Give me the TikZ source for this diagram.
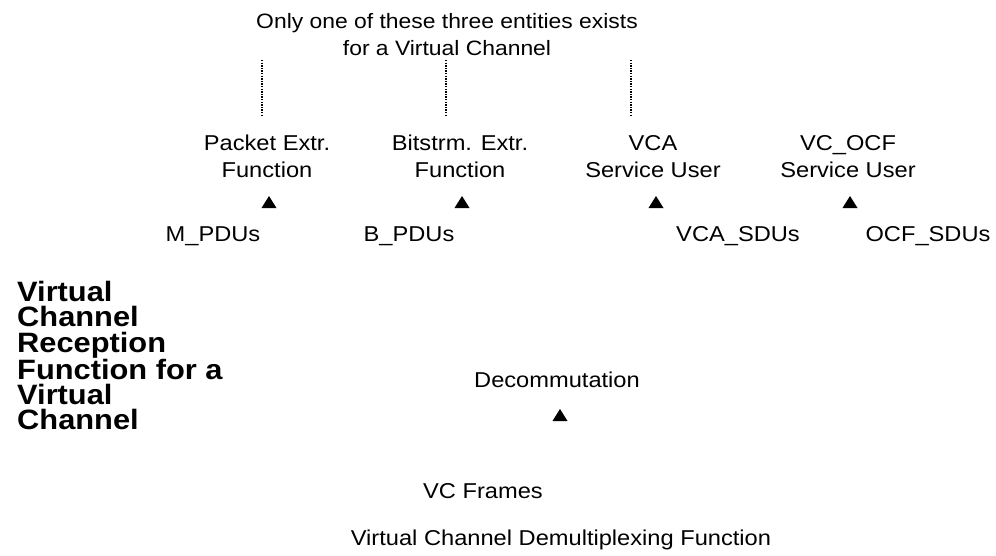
\documentclass[tikz,border=0pt]{standalone}
\usepackage{fontspec}
\setmainfont{Liberation Sans}[FakeStretch=1.1]
\begin{document}
\begin{tikzpicture}[x=1pt,y=-1pt,
  lbl/.style={inner sep=0pt,align=center,font=\fontsize{21.5}{27}\selectfont},
  ttl/.style={inner sep=0pt,align=center,font=\fontsize{20.8}{27.5}\selectfont},
  hdr/.style={inner sep=0pt,align=left,font=\fontsize{28}{25.3}\selectfont\bfseries},
  dots/.style={line width=1.6pt,dash pattern=on 1.4pt off 1.2pt},
  tri/.style={fill=black}]
\useasboundingbox (0,0) rectangle (996,555);
% title
\node[ttl,anchor=north] (title) at (447,13) {Only one of these three entities exists\\for a Virtual Channel};
% dotted lines
\coordinate (d1t) at (262,60); \coordinate (d1b) at (262,116);
\coordinate (d2t) at (446,60); \coordinate (d2b) at (446,116);
\coordinate (d3t) at (631,60); \coordinate (d3b) at (631,116);
\draw[dots] (d1t) -- (d1b);
\draw[dots] (d2t) -- (d2b);
\draw[dots] (d3t) -- (d3b);
% entities
\node[lbl,anchor=north] (pe) at (267,135) {Packet Extr.\\Function};
\node[lbl,anchor=north] (be) at (460,135) {Bitstrm. Extr.\\Function};
\node[lbl,anchor=north] (vca) at (653,135) {VCA\\Service User};
\node[lbl,anchor=north] (ocf) at (848,135) {VC\_OCF\\Service User};
% triangles
\coordinate (t1) at (269,202);
\coordinate (t2) at (462,202);
\coordinate (t3) at (656,202);
\coordinate (t4) at (850,202);
\coordinate (t5) at (560,415);
\foreach \t in {t1,t2,t3,t4,t5}
  \fill[tri] ([shift={(-7.5,6)}]\t) -- ++(15,0) -- ++(-7.5,-12) -- cycle;
% data units
\node[lbl,anchor=base] (mp) at (213,241) {M\_PDUs};
\node[lbl,anchor=base] (bp) at (409,241) {B\_PDUs};
\node[lbl,anchor=base] (vs) at (738,241) {VCA\_SDUs};
\node[lbl,anchor=base] (os) at (928,241) {OCF\_SDUs};
% left heading
\node[hdr,anchor=north west] (vcr) at (17,281) {Virtual\\Channel\\Reception\\Function for a\\Virtual\\Channel};
% lower part
\node[lbl,anchor=base] (dec) at (557,387) {Decommutation};
\node[lbl,anchor=base] (vcf) at (483,498) {VC Frames};
\node[lbl,anchor=base] (vcd) at (561,545) {Virtual Channel Demultiplexing Function};
\end{tikzpicture}
\end{document}
